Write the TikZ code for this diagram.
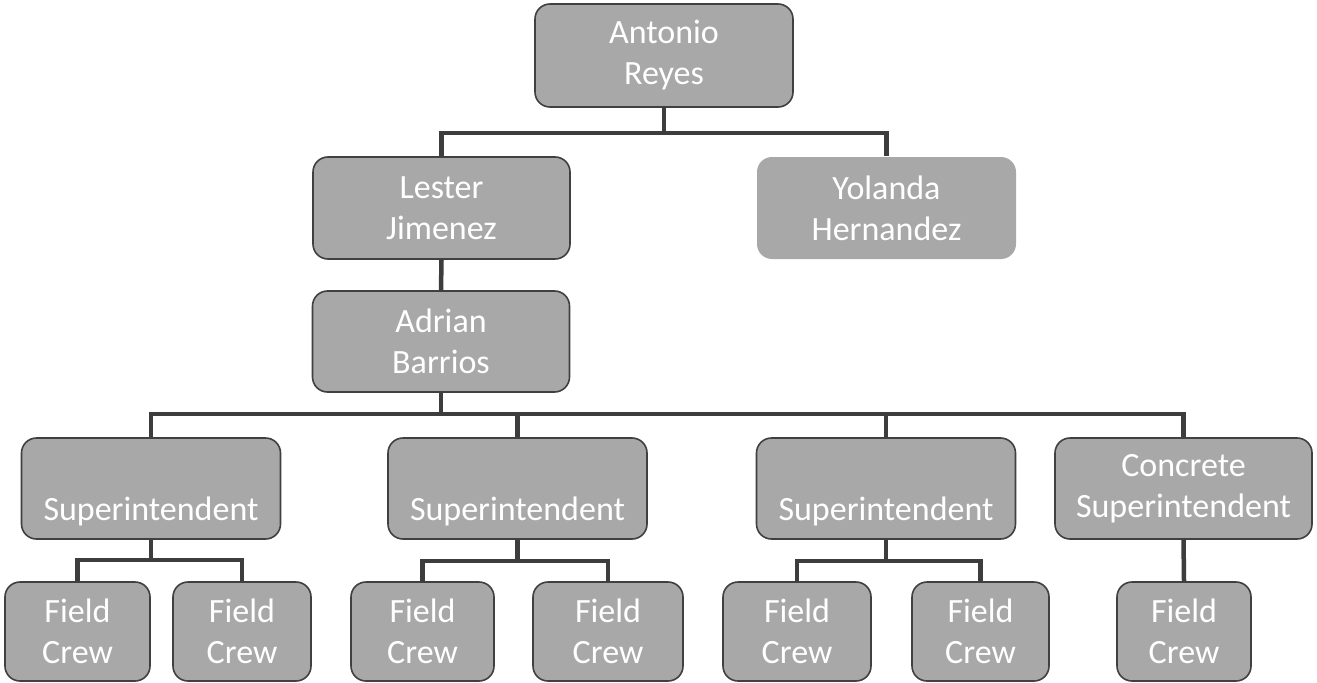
\documentclass[tikz,border=0pt]{standalone}
\usepackage{fontspec}
\setmainfont{Carlito}
\definecolor{boxfill}{RGB}{168,168,168}
\definecolor{boxline}{RGB}{64,64,64}
\definecolor{connline}{RGB}{61,61,61}
\begin{document}
\begin{tikzpicture}[x=1bp,y=-1bp,
  orgbox/.style={draw=boxline,line width=1.6bp,fill=boxfill,rounded corners=15bp,
    text=white,align=center,inner sep=0pt,
    font=\fontsize{34bp}{41bp}\selectfont},
  softbox/.style={orgbox,draw=none},
  conn/.style={draw=connline,line width=4.5bp}]
\useasboundingbox (0,0) rectangle (1317,682);
\fill[white] (0,0) rectangle (1317,682);
% nodes
\node[orgbox,minimum width=258bp,minimum height=103bp] (ant) at (664,55.5) {Antonio\\Reyes};
\node[orgbox,minimum width=257bp,minimum height=102bp] (les) at (441.5,208) {Lester\\Jimenez};
\node[softbox,minimum width=259bp,minimum height=102bp] (yol) at (886.5,208) {Yolanda\\Hernandez};
\node[orgbox,minimum width=257bp,minimum height=101bp] (adr) at (441,341.5) {Adrian\\Barrios};
\node[orgbox,minimum width=259bp,minimum height=101bp] (s1) at (151,488.5) {\strut\\Superintendent};
\node[orgbox,minimum width=259bp,minimum height=101bp] (s2) at (517.5,488.5) {\strut\\Superintendent};
\node[orgbox,minimum width=259bp,minimum height=101bp] (s3) at (886,488.5) {\strut\\Superintendent};
\node[orgbox,minimum width=257bp,minimum height=101bp] (s4) at (1183.5,488.5) {Concrete\\Superintendent};
\node[orgbox,minimum width=145bp,minimum height=99bp] (f1) at (77.5,631.5) {Field\\Crew};
\node[orgbox,minimum width=138bp,minimum height=99bp] (f2) at (242,631.5) {Field\\Crew};
\node[orgbox,minimum width=143bp,minimum height=99bp] (f3) at (422.5,631.5) {Field\\Crew};
\node[orgbox,minimum width=150bp,minimum height=99bp] (f4) at (608,631.5) {Field\\Crew};
\node[orgbox,minimum width=148bp,minimum height=99bp] (f5) at (797,631.5) {Field\\Crew};
\node[orgbox,minimum width=137bp,minimum height=99bp] (f6) at (980.5,631.5) {Field\\Crew};
\node[orgbox,minimum width=134bp,minimum height=99bp] (f7) at (1184,631.5) {Field\\Crew};
% junctions
\coordinate (b1) at (664,133);
\coordinate (b2) at (441,414);
\coordinate (k1) at (151,560);
\coordinate (k2) at (517.5,561);
\coordinate (k3) at (886,561);
% connectors
\draw[conn] (ant.south) -- (b1);
\draw[conn] (les.north) |- (b1) -| (yol.north);
\draw[conn] (les.south) -- (adr.north);
\draw[conn] (adr.south) -- (b2);
\draw[conn] (s1.north) |- (b2) -| (s4.north);
\draw[conn] (s2.north) -- (s2.north |- b2);
\draw[conn] (s3.north) -- (s3.north |- b2);
\draw[conn] (s1.south) -- (k1);
\draw[conn] (f1.north) |- (k1) -| (f2.north);
\draw[conn] (s2.south) -- (k2);
\draw[conn] (f3.north) |- (k2) -| (f4.north);
\draw[conn] (s3.south) -- (k3);
\draw[conn] (f5.north) |- (k3) -| (f6.north);
\draw[conn] (s4.south) -- (f7.north);
\end{tikzpicture}
\end{document}
